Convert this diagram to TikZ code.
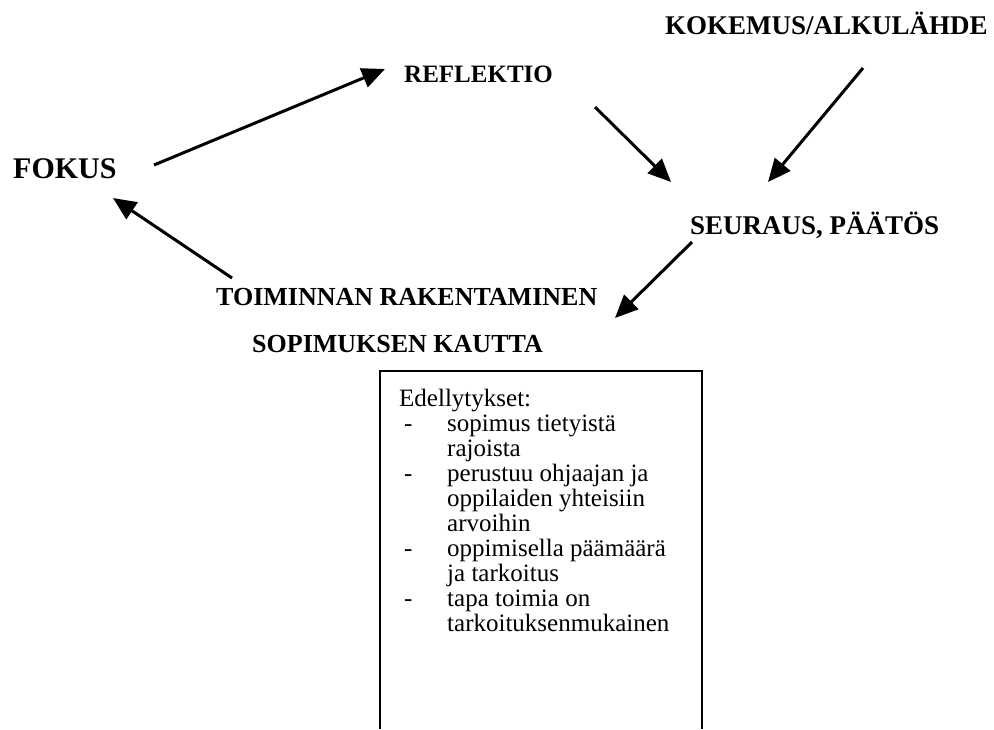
\documentclass[tikz,border=0pt]{standalone}
\usepackage{fontspec}
\setmainfont{Liberation Serif}
\usetikzlibrary{arrows.meta}
\begin{document}
\begin{tikzpicture}[x=1pt,y=-1pt,
  lbl/.style={anchor=base west, inner sep=0pt, font=\bfseries\fontsize{26}{30}\selectfont},
  biglbl/.style={lbl, font=\bfseries\fontsize{30}{34}\selectfont},
  midlbl/.style={lbl, font=\bfseries\fontsize{27}{31}\selectfont},
  smalllbl/.style={lbl, font=\bfseries\fontsize{25}{29}\selectfont},
  body/.style={anchor=base west, inner sep=0pt, font=\fontsize{25}{25}\selectfont},
  arr/.style={line width=3pt, -{Triangle[length=23pt,width=20pt]}},
  frame/.style={line width=1.5pt}]
\useasboundingbox (0,0) rectangle (994,729);

% headings
\node[midlbl] (kok) at (665,34) {KOKEMUS/ALKULÄHDE};
\node[smalllbl] (ref) at (404,82) {REFLEKTIO};
\node[biglbl] (fok) at (13,178) {FOKUS};
\node[midlbl] (seu) at (690,234) {SEURAUS, PÄÄTÖS};
\node[lbl] (toi) at (216,305) {TOIMINNAN RAKENTAMINEN};
\node[lbl] (sop) at (252,352) {SOPIMUKSEN KAUTTA};

% arrow end points
\coordinate (a1s) at (154,165); \coordinate (a1e) at (385,69);
\coordinate (a2s) at (595,107); \coordinate (a2e) at (671,182);
\coordinate (a3s) at (863,68);  \coordinate (a3e) at (768,182);
\coordinate (a4s) at (692,242); \coordinate (a4e) at (615,318);
\coordinate (a5s) at (232,278); \coordinate (a5e) at (113,198);

\draw[arr] (a1s) -- (a1e);
\draw[arr] (a2s) -- (a2e);
\draw[arr] (a3s) -- (a3e);
\draw[arr] (a4s) -- (a4e);
\draw[arr] (a5s) -- (a5e);

% open box
\draw[frame] (380,729) -- (380,371) -- (702,371) -- (702,729);

% box text
\node[body] (t0) at (399,406) {Edellytykset:};
\node[body] (d1) at (404,431) {-};
\node[body] (t1) at (447,431) {sopimus tietyistä};
\node[body] (t2) at (447,456) {rajoista};
\node[body] (d2) at (404,481) {-};
\node[body] (t3) at (447,481) {perustuu ohjaajan ja};
\node[body] (t4) at (447,506) {oppilaiden yhteisiin};
\node[body] (t5) at (447,531) {arvoihin};
\node[body] (d3) at (404,556) {-};
\node[body] (t6) at (447,556) {oppimisella päämäärä};
\node[body] (t7) at (447,581) {ja tarkoitus};
\node[body] (d4) at (404,606) {-};
\node[body] (t8) at (447,606) {tapa toimia on};
\node[body] (t9) at (447,631) {tarkoituksenmukainen};
\end{tikzpicture}
\end{document}
